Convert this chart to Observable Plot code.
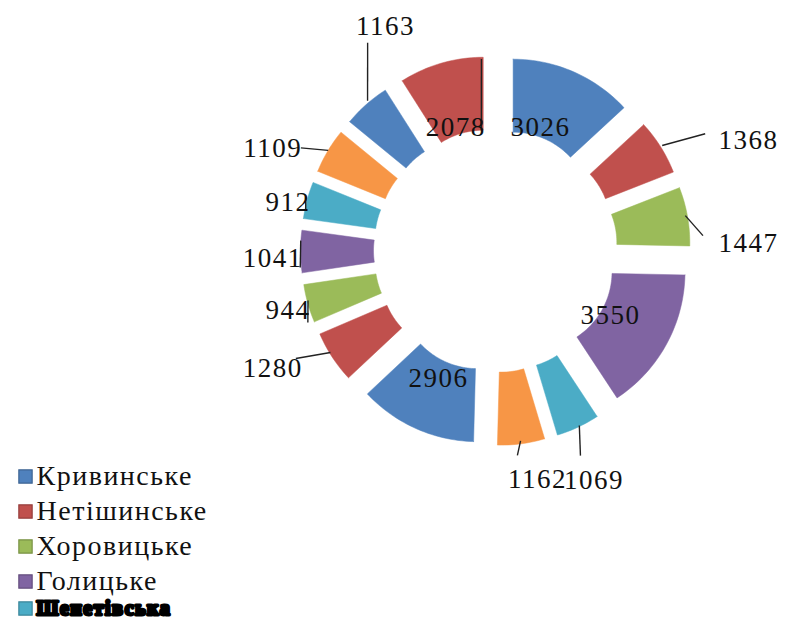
<!DOCTYPE html>
<html>
<head>
<meta charset="utf-8">
<script src="https://cdn.jsdelivr.net/npm/d3@7"></script>
<script src="https://cdn.jsdelivr.net/npm/@observablehq/plot@0.6"></script>
<style>
  html, body { margin: 0; padding: 0; background: #fff; }
  #chart svg text { letter-spacing: 1.5px; }
</style>
</head>
<body>
<div id="chart"></div>
<script>
// ---- data ----
const values = [3026, 1368, 1447, 3550, 1069, 1162, 2906, 1280, 944, 1041, 912, 1109, 1163, 2078];
const palette = ["#4F81BD", "#C0504D", "#9BBB59", "#8064A2", "#4BACC6", "#F79646"];
const legendNames = ["Кривинське", "Нетішинське", "Хоровицьке", "Голицьке", "Шепетівська"];
// label placement (polar: degrees clockwise from top, distance from centre)
const labelAngle = [20.1, 66.5, 88.4, 119.5, 156.8, 169.6, 204, 242.1, 253.9, 267.9, 283, 294.6, 333.9, 342];
const labelDist  = [131, 276, 253, 132, 250, 233, 140, 252, 216, 223, 213, 245, 250, 129];
// leader lines (polar endpoints)
const leaders = [
  {a1: 328.4, d1: 244, a2: 319.5, d2: 197},
  {a1: 297.8, d1: 220, a2: 300.9, d2: 195},
  {a1: 60.9,  d1: 240, a2: 57.8,  d2: 197},
  {a1: 85.9,  d1: 208, a2: 79.6,  d2: 193},
  {a1: 157.5, d1: 222, a2: 154.4, d2: 194},
  {a1: 173.9, d1: 206, a2: 172.5, d2: 192},
  {a1: 241.6, d1: 227, a2: 238.3, d2: 194},
  {a1: 355.8, d1: 192, a2: 353.3, d2: 121},
  {a1: 285.6, d1: 197, a2: 281.9, d2: 194},
  {a1: 272.9, d1: 195, a2: 265.0, d2: 196},
  {a1: 255.1, d1: 194, a2: 249.0, d2: 201}
];

// ---- geometry ----
const W = 785, H = 622;
const cx = 495, cy = 250, R = 151, r0 = 78, explode = 44;
const rad = a => a * Math.PI / 180;
const P = (a, d) => [cx + d * Math.sin(rad(a)), cy - d * Math.cos(rad(a))];

const total = d3.sum(values);
let acc = 0;
const slices = values.map((v, i) => {
  const a0 = acc / total * 360; acc += v; const a1 = acc / total * 360;
  return {i, v, a0, a1, mid: (a0 + a1) / 2, color: palette[i % palette.length]};
});

const pts = [];
for (const s of slices) {
  const ox = explode * Math.sin(rad(s.mid)), oy = -explode * Math.cos(rad(s.mid));
  const n = Math.max(8, Math.ceil((s.a1 - s.a0) / 1.5));
  const ring = [];
  for (let k = 0; k <= n; k++) ring.push([s.a0 + (s.a1 - s.a0) * k / n, R]);
  for (let k = n; k >= 0; k--) ring.push([s.a0 + (s.a1 - s.a0) * k / n, r0]);
  ring.push([s.a0, R]);
  for (const [a, d] of ring) {
    const [x, y] = P(a, d);
    pts.push({slice: s.i, x: x + ox, y: y + oy, color: s.color});
  }
}

const labels = values.map((v, i) => {
  const [x, y] = P(labelAngle[i], labelDist[i]);
  return {x, y, text: String(v)};
});

const leaderSegs = leaders.map(l => {
  const [x1, y1] = P(l.a1, l.d1);
  const [x2, y2] = P(l.a2, l.d2);
  return {x1, y1, x2, y2};
});

const legend = legendNames.map((name, i) => ({
  name, color: palette[i], edge: d3.color(palette[i]).darker(0.7).formatHex(),
  x: 25, tx: 36, y: i < 4 ? 476 + i * 35 : 608
}));

const plot = Plot.plot({
  width: W, height: H,
  margin: 0,
  x: {domain: [0, W], range: [0, W], axis: null},
  y: {domain: [0, H], range: [0, H], axis: null},
  style: {background: "#fff", fontFamily: "Liberation Serif, serif"},
  marks: [
    Plot.line(pts, {x: "x", y: "y", z: "slice", fill: "color", stroke: "color", strokeWidth: 0.5, curve: "linear"}),
    Plot.link(leaderSegs, {x1: "x1", y1: "y1", x2: "x2", y2: "y2", stroke: "#222", strokeWidth: 1.4}),
    Plot.text(labels, {x: "x", y: "y", text: "text", fontSize: 27, fill: "#111", fontFamily: "Liberation Serif"}),
    Plot.dot(legend, {x: "x", y: "y", symbol: "square", r: 7.5, fill: "color", stroke: "edge", strokeWidth: 1.2}),
    Plot.text(legend.slice(0, 4), {x: "tx", y: "y", text: "name", textAnchor: "start", fontSize: 28, fill: "#111", fontFamily: "Liberation Serif"}),
    Plot.text(legend.slice(4), {x: "tx", y: "y", text: "name", textAnchor: "start", fontSize: 20, fill: "#000", stroke: "#000", strokeWidth: 3, fontWeight: "bold", fontFamily: "Liberation Serif"})
  ]
});
document.getElementById("chart").appendChild(plot);
</script>
</body>
</html>
